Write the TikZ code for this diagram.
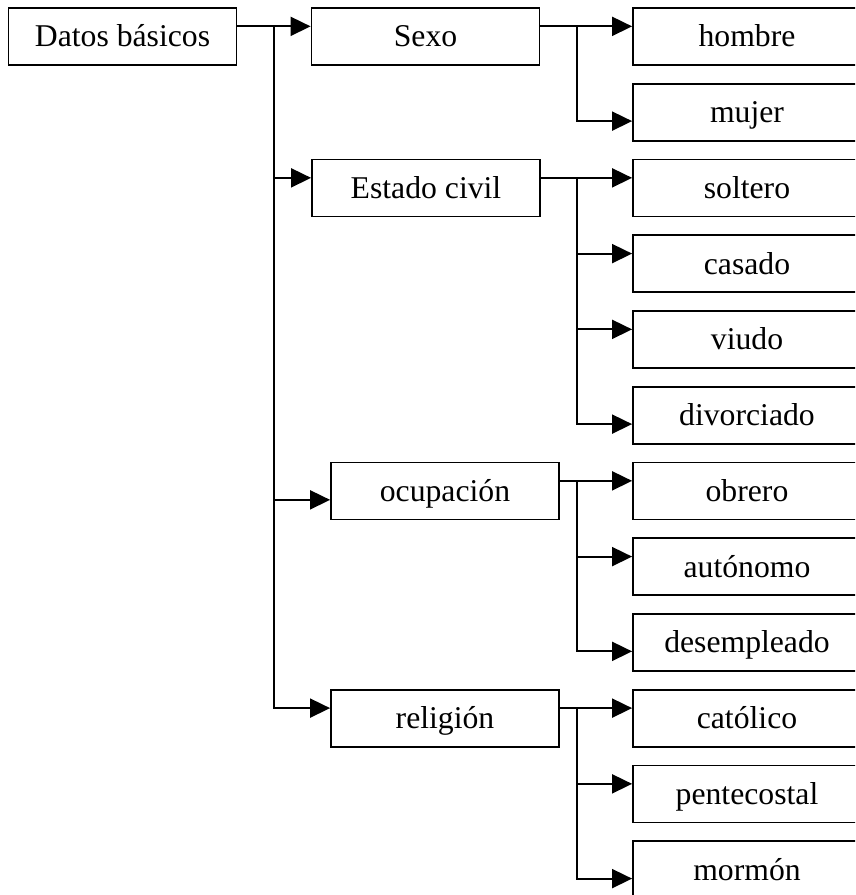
\documentclass[tikz,border=0pt]{standalone}
\usepackage{fontspec}
\setmainfont{Liberation Serif}
\usetikzlibrary{arrows.meta}

\begin{document}
\begin{tikzpicture}[x=1pt,y=-1pt,>={Triangle[length=20pt,width=19pt]},line width=1.8pt,
                    box/.style={rectangle,draw,minimum width=228pt,minimum height=57pt,inner sep=0pt,
                                text height=28.5pt,text depth=7.6pt,font=\fontsize{31.7}{38}\selectfont}]
  \useasboundingbox (0,0) rectangle (855,895);
  \clip (0,0) rectangle (855,895);

  \node[box] (datos) at (122.5,36.5) {Datos básicos};

  \node[box] (sexo) at (425.5,36.5) {Sexo};
  \node[box] (civil) at (426,188) {Estado civil};
  \node[box] (ocupacion) at (445,491) {ocupación};
  \node[box] (religion) at (445,718.25) {religión};

  \node[box] (hombre) at (747,36.5) {hombre};
  \node[box] (mujer) at (747,112.25) {mujer};
  \node[box] (soltero) at (747,188) {soltero};
  \node[box] (casado) at (747,263.75) {casado};
  \node[box] (viudo) at (747,339.5) {viudo};
  \node[box] (divorciado) at (747,415.25) {divorciado};
  \node[box] (obrero) at (747,491) {obrero};
  \node[box] (autonomo) at (747,566.75) {autónomo};
  \node[box] (desempleado) at (747,642.5) {desempleado};
  \node[box] (catolico) at (747,718.25) {católico};
  \node[box] (pentecostal) at (747,794) {pentecostal};
  \node[box] (mormon) at (747,869.75) {mormón};

  % where the arrows meet the boxes
  \coordinate (sexo-in) at ([yshift=-19.25pt]sexo.north west);
  \coordinate (civil-in) at ([yshift=-19.25pt]civil.north west);
  \coordinate (ocupacion-in) at ([yshift=-38.25pt]ocupacion.north west);
  \coordinate (religion-in) at ([yshift=-19.25pt]religion.north west);
  \coordinate (hombre-in) at ([yshift=-19.25pt]hombre.north west);
  \coordinate (mujer-in) at ([yshift=-38.25pt]mujer.north west);
  \coordinate (soltero-in) at ([yshift=-19.25pt]soltero.north west);
  \coordinate (casado-in) at ([yshift=-19.25pt]casado.north west);
  \coordinate (viudo-in) at ([yshift=-19.25pt]viudo.north west);
  \coordinate (divorciado-in) at ([yshift=-38.25pt]divorciado.north west);
  \coordinate (obrero-in) at ([yshift=-19.25pt]obrero.north west);
  \coordinate (autonomo-in) at ([yshift=-19.25pt]autonomo.north west);
  \coordinate (desempleado-in) at ([yshift=-38.25pt]desempleado.north west);
  \coordinate (catolico-in) at ([yshift=-19.25pt]catolico.north west);
  \coordinate (pentecostal-in) at ([yshift=-19.25pt]pentecostal.north west);
  \coordinate (mormon-in) at ([yshift=-38.25pt]mormon.north west);

  \coordinate (trunk) at (274,0);
  \coordinate (branch) at (577,0);

  % first level
  \draw[->] (datos.east |- sexo-in) -- (sexo-in);
  \draw[->] (trunk |- sexo-in) |- (religion-in);
  \draw[->] (trunk |- civil-in) -- (civil-in);
  \draw[->] (trunk |- ocupacion-in) -- (ocupacion-in);

  % Sexo
  \draw[->] (sexo.east |- hombre-in) -- (hombre-in);
  \draw[->] (branch |- hombre-in) |- (mujer-in);

  % Estado civil
  \draw[->] (civil.east |- soltero-in) -- (soltero-in);
  \draw[->] (branch |- soltero-in) |- (divorciado-in);
  \draw[->] (branch |- casado-in) -- (casado-in);
  \draw[->] (branch |- viudo-in) -- (viudo-in);

  % ocupacion
  \draw[->] (ocupacion.east |- obrero-in) -- (obrero-in);
  \draw[->] (branch |- obrero-in) |- (desempleado-in);
  \draw[->] (branch |- autonomo-in) -- (autonomo-in);

  % religion
  \draw[->] (religion.east |- catolico-in) -- (catolico-in);
  \draw[->] (branch |- catolico-in) |- (mormon-in);
  \draw[->] (branch |- pentecostal-in) -- (pentecostal-in);
\end{tikzpicture}
\end{document}
